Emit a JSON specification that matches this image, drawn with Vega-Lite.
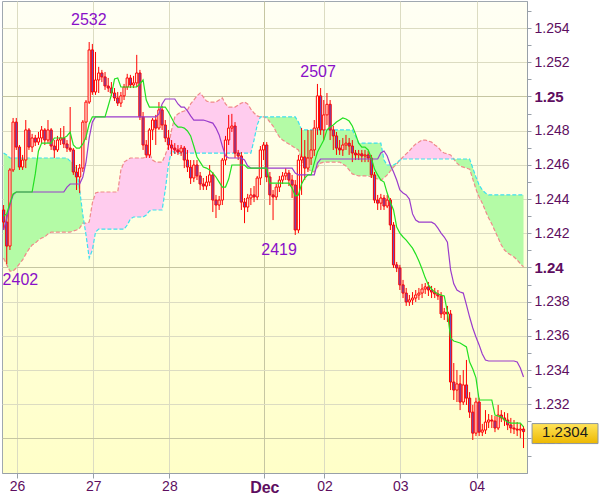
{
"$schema": "https://vega.github.io/schema/vega-lite/v6.json",
"width": 525, "height": 472,
"padding": {"left": 1, "top": 1, "right": 2, "bottom": 0},
"background": "#FFFFFF",
"config": {
  "font": "Liberation Sans",
  "view": {"fill": {"gradient": "linear", "x1": 0, "y1": 0, "x2": 0, "y2": 1, "stops": [{"offset": 0, "color": "#FFFFF4"}, {"offset": 1, "color": "#FFFFC8"}]}, "stroke": "#A0A8B0", "strokeWidth": 1},
  "axis": {"labelFont": "Liberation Sans", "domainColor": "#98A0A8", "tickColor": "#98A0A8", "labelColor": "#5E0E60", "title": null, "labelOverlap": false}
},
"datasets": {
"bars": [
{"i":0,"o":1.24336,"h":1.24365,"l":1.24219,"c":1.24265,"t":1.24301,"k":1.24219},
{"i":1,"o":1.24265,"h":1.24307,"l":1.24020,"c":1.24125,"t":1.24313,"k":1.24289},
{"i":2,"o":1.24125,"h":1.24581,"l":1.24102,"c":1.24570,"t":1.24376,"k":1.24365},
{"i":3,"o":1.24570,"h":1.24874,"l":1.24558,"c":1.24850,"t":1.24430,"k":1.24424},
{"i":4,"o":1.24850,"h":1.24874,"l":1.24687,"c":1.24704,"t":1.24441,"k":1.24441},
{"i":5,"o":1.24704,"h":1.24716,"l":1.24570,"c":1.24587,"t":1.24441,"k":1.24441},
{"i":6,"o":1.24587,"h":1.24658,"l":1.24570,"c":1.24628,"t":1.24441,"k":1.24441},
{"i":7,"o":1.24628,"h":1.24862,"l":1.24581,"c":1.24804,"t":1.24441,"k":1.24441},
{"i":8,"o":1.24804,"h":1.24815,"l":1.24687,"c":1.24704,"t":1.24441,"k":1.24441},
{"i":9,"o":1.24704,"h":1.24781,"l":1.24675,"c":1.24757,"t":1.24441,"k":1.24441},
{"i":10,"o":1.24757,"h":1.24775,"l":1.24710,"c":1.24733,"t":1.24547,"k":1.24441},
{"i":11,"o":1.24733,"h":1.24792,"l":1.24716,"c":1.24757,"t":1.24681,"k":1.24441},
{"i":12,"o":1.24757,"h":1.24827,"l":1.24722,"c":1.24804,"t":1.24727,"k":1.24441},
{"i":13,"o":1.24804,"h":1.24815,"l":1.24716,"c":1.24745,"t":1.24727,"k":1.24441},
{"i":14,"o":1.24745,"h":1.24862,"l":1.24727,"c":1.24804,"t":1.24727,"k":1.24441},
{"i":15,"o":1.24804,"h":1.24815,"l":1.24687,"c":1.24710,"t":1.24727,"k":1.24441},
{"i":16,"o":1.24710,"h":1.24745,"l":1.24640,"c":1.24687,"t":1.24757,"k":1.24441},
{"i":17,"o":1.24687,"h":1.24769,"l":1.24675,"c":1.24745,"t":1.24757,"k":1.24441},
{"i":18,"o":1.24745,"h":1.24815,"l":1.24716,"c":1.24757,"t":1.24757,"k":1.24441},
{"i":19,"o":1.24757,"h":1.24827,"l":1.24698,"c":1.24722,"t":1.24757,"k":1.24441},
{"i":20,"o":1.24722,"h":1.24745,"l":1.24675,"c":1.24698,"t":1.24769,"k":1.24470},
{"i":21,"o":1.24698,"h":1.24938,"l":1.24675,"c":1.24687,"t":1.24792,"k":1.24488},
{"i":22,"o":1.24687,"h":1.24698,"l":1.24541,"c":1.24558,"t":1.24716,"k":1.24488},
{"i":23,"o":1.24558,"h":1.24599,"l":1.24453,"c":1.24529,"t":1.24698,"k":1.24488},
{"i":24,"o":1.24529,"h":1.24605,"l":1.24435,"c":1.24581,"t":1.24698,"k":1.24488},
{"i":25,"o":1.24581,"h":1.24862,"l":1.24558,"c":1.24850,"t":1.24722,"k":1.24529},
{"i":26,"o":1.24850,"h":1.24979,"l":1.24745,"c":1.24967,"t":1.24763,"k":1.24616},
{"i":27,"o":1.24967,"h":1.25318,"l":1.24956,"c":1.25272,"t":1.24839,"k":1.24757},
{"i":28,"o":1.25272,"h":1.25307,"l":1.25009,"c":1.25026,"t":1.24880,"k":1.24850},
{"i":29,"o":1.25026,"h":1.25260,"l":1.25009,"c":1.25096,"t":1.24880,"k":1.24880},
{"i":30,"o":1.25096,"h":1.25173,"l":1.25020,"c":1.25137,"t":1.24880,"k":1.24880},
{"i":31,"o":1.25137,"h":1.25155,"l":1.25084,"c":1.25114,"t":1.24880,"k":1.24880},
{"i":32,"o":1.25114,"h":1.25143,"l":1.25038,"c":1.25061,"t":1.24880,"k":1.24880},
{"i":33,"o":1.25061,"h":1.25108,"l":1.25026,"c":1.25049,"t":1.24944,"k":1.24880},
{"i":34,"o":1.25049,"h":1.25084,"l":1.25003,"c":1.25020,"t":1.25009,"k":1.24880},
{"i":35,"o":1.25020,"h":1.25049,"l":1.24973,"c":1.24991,"t":1.25102,"k":1.24880},
{"i":36,"o":1.24991,"h":1.25026,"l":1.24944,"c":1.24961,"t":1.25108,"k":1.24880},
{"i":37,"o":1.24961,"h":1.25026,"l":1.24938,"c":1.25003,"t":1.25055,"k":1.24880},
{"i":38,"o":1.25003,"h":1.25073,"l":1.24979,"c":1.25055,"t":1.25055,"k":1.24880},
{"i":39,"o":1.25055,"h":1.25132,"l":1.25038,"c":1.25108,"t":1.25055,"k":1.24880},
{"i":40,"o":1.25108,"h":1.25126,"l":1.25049,"c":1.25067,"t":1.25055,"k":1.24880},
{"i":41,"o":1.25067,"h":1.25120,"l":1.25049,"c":1.25079,"t":1.25055,"k":1.24880},
{"i":42,"o":1.25079,"h":1.25243,"l":1.25055,"c":1.25137,"t":1.25055,"k":1.24880},
{"i":43,"o":1.25137,"h":1.25155,"l":1.24862,"c":1.24880,"t":1.25073,"k":1.24880},
{"i":44,"o":1.24880,"h":1.24909,"l":1.24687,"c":1.24716,"t":1.25096,"k":1.24880},
{"i":45,"o":1.24716,"h":1.24745,"l":1.24640,"c":1.24658,"t":1.24979,"k":1.24880},
{"i":46,"o":1.24658,"h":1.24815,"l":1.24640,"c":1.24804,"t":1.24938,"k":1.24880},
{"i":47,"o":1.24804,"h":1.24874,"l":1.24745,"c":1.24862,"t":1.24938,"k":1.24880},
{"i":48,"o":1.24862,"h":1.24892,"l":1.24716,"c":1.24815,"t":1.24938,"k":1.24880},
{"i":49,"o":1.24815,"h":1.24967,"l":1.24804,"c":1.24921,"t":1.24938,"k":1.24898},
{"i":50,"o":1.24921,"h":1.24944,"l":1.24804,"c":1.24833,"t":1.24938,"k":1.24956},
{"i":51,"o":1.24833,"h":1.24862,"l":1.24733,"c":1.24757,"t":1.24938,"k":1.24985},
{"i":52,"o":1.24757,"h":1.24804,"l":1.24687,"c":1.24716,"t":1.24909,"k":1.24985},
{"i":53,"o":1.24716,"h":1.24745,"l":1.24652,"c":1.24698,"t":1.24874,"k":1.24985},
{"i":54,"o":1.24698,"h":1.24727,"l":1.24664,"c":1.24687,"t":1.24839,"k":1.24985},
{"i":55,"o":1.24687,"h":1.24716,"l":1.24658,"c":1.24675,"t":1.24821,"k":1.24956},
{"i":56,"o":1.24675,"h":1.24716,"l":1.24652,"c":1.24698,"t":1.24821,"k":1.24938},
{"i":57,"o":1.24698,"h":1.24710,"l":1.24581,"c":1.24628,"t":1.24815,"k":1.24938},
{"i":58,"o":1.24628,"h":1.24687,"l":1.24558,"c":1.24587,"t":1.24798,"k":1.24915},
{"i":59,"o":1.24587,"h":1.24628,"l":1.24488,"c":1.24523,"t":1.24769,"k":1.24886},
{"i":60,"o":1.24523,"h":1.24628,"l":1.24499,"c":1.24599,"t":1.24710,"k":1.24862},
{"i":61,"o":1.24599,"h":1.24628,"l":1.24511,"c":1.24535,"t":1.24646,"k":1.24862},
{"i":62,"o":1.24535,"h":1.24558,"l":1.24453,"c":1.24488,"t":1.24616,"k":1.24862},
{"i":63,"o":1.24488,"h":1.24523,"l":1.24453,"c":1.24476,"t":1.24587,"k":1.24862},
{"i":64,"o":1.24476,"h":1.24535,"l":1.24453,"c":1.24499,"t":1.24581,"k":1.24856},
{"i":65,"o":1.24499,"h":1.24599,"l":1.24476,"c":1.24541,"t":1.24570,"k":1.24850},
{"i":66,"o":1.24541,"h":1.24558,"l":1.24324,"c":1.24394,"t":1.24552,"k":1.24844},
{"i":67,"o":1.24394,"h":1.24424,"l":1.24289,"c":1.24365,"t":1.24529,"k":1.24815},
{"i":68,"o":1.24365,"h":1.24418,"l":1.24336,"c":1.24394,"t":1.24499,"k":1.24775},
{"i":69,"o":1.24394,"h":1.24640,"l":1.24365,"c":1.24628,"t":1.24470,"k":1.24710},
{"i":70,"o":1.24628,"h":1.24769,"l":1.24599,"c":1.24745,"t":1.24470,"k":1.24652},
{"i":71,"o":1.24745,"h":1.24892,"l":1.24716,"c":1.24815,"t":1.24517,"k":1.24640},
{"i":72,"o":1.24815,"h":1.24898,"l":1.24792,"c":1.24827,"t":1.24599,"k":1.24640},
{"i":73,"o":1.24827,"h":1.24850,"l":1.24640,"c":1.24669,"t":1.24599,"k":1.24640},
{"i":74,"o":1.24669,"h":1.24687,"l":1.24628,"c":1.24652,"t":1.24599,"k":1.24640},
{"i":75,"o":1.24652,"h":1.24675,"l":1.24336,"c":1.24382,"t":1.24599,"k":1.24640},
{"i":76,"o":1.24382,"h":1.24406,"l":1.24259,"c":1.24353,"t":1.24599,"k":1.24628},
{"i":77,"o":1.24353,"h":1.24430,"l":1.24324,"c":1.24406,"t":1.24581,"k":1.24593},
{"i":78,"o":1.24406,"h":1.24464,"l":1.24365,"c":1.24424,"t":1.24581,"k":1.24581},
{"i":79,"o":1.24424,"h":1.24476,"l":1.24382,"c":1.24412,"t":1.24581,"k":1.24581},
{"i":80,"o":1.24412,"h":1.24535,"l":1.24394,"c":1.24523,"t":1.24581,"k":1.24581},
{"i":81,"o":1.24523,"h":1.24710,"l":1.24482,"c":1.24687,"t":1.24581,"k":1.24581},
{"i":82,"o":1.24687,"h":1.24733,"l":1.24628,"c":1.24716,"t":1.24581,"k":1.24581},
{"i":83,"o":1.24716,"h":1.24733,"l":1.24499,"c":1.24529,"t":1.24581,"k":1.24581},
{"i":84,"o":1.24529,"h":1.24558,"l":1.24365,"c":1.24424,"t":1.24493,"k":1.24581},
{"i":85,"o":1.24424,"h":1.24453,"l":1.24277,"c":1.24412,"t":1.24493,"k":1.24581},
{"i":86,"o":1.24412,"h":1.24488,"l":1.24394,"c":1.24470,"t":1.24493,"k":1.24581},
{"i":87,"o":1.24470,"h":1.24535,"l":1.24441,"c":1.24511,"t":1.24493,"k":1.24581},
{"i":88,"o":1.24511,"h":1.24558,"l":1.24488,"c":1.24535,"t":1.24493,"k":1.24581},
{"i":89,"o":1.24535,"h":1.24581,"l":1.24511,"c":1.24552,"t":1.24493,"k":1.24581},
{"i":90,"o":1.24552,"h":1.24570,"l":1.24476,"c":1.24511,"t":1.24493,"k":1.24581},
{"i":91,"o":1.24511,"h":1.24541,"l":1.24406,"c":1.24482,"t":1.24464,"k":1.24581},
{"i":92,"o":1.24482,"h":1.24511,"l":1.24190,"c":1.24219,"t":1.24418,"k":1.24552},
{"i":93,"o":1.24219,"h":1.24658,"l":1.24201,"c":1.24628,"t":1.24424,"k":1.24541},
{"i":94,"o":1.24628,"h":1.24815,"l":1.24424,"c":1.24646,"t":1.24488,"k":1.24541},
{"i":95,"o":1.24646,"h":1.24745,"l":1.24511,"c":1.24581,"t":1.24523,"k":1.24541},
{"i":96,"o":1.24581,"h":1.24804,"l":1.24558,"c":1.24640,"t":1.24541,"k":1.24541},
{"i":97,"o":1.24640,"h":1.24804,"l":1.24599,"c":1.24687,"t":1.24541,"k":1.24541},
{"i":98,"o":1.24687,"h":1.24862,"l":1.24652,"c":1.24815,"t":1.24610,"k":1.24541},
{"i":99,"o":1.24815,"h":1.25073,"l":1.24775,"c":1.25003,"t":1.24675,"k":1.24610},
{"i":100,"o":1.25003,"h":1.25049,"l":1.24775,"c":1.24804,"t":1.24710,"k":1.24634},
{"i":101,"o":1.24804,"h":1.24979,"l":1.24745,"c":1.24892,"t":1.24745,"k":1.24634},
{"i":102,"o":1.24892,"h":1.25020,"l":1.24833,"c":1.24954,"t":1.24804,"k":1.24634},
{"i":103,"o":1.24954,"h":1.24979,"l":1.24745,"c":1.24804,"t":1.24821,"k":1.24634},
{"i":104,"o":1.24804,"h":1.24827,"l":1.24687,"c":1.24769,"t":1.24833,"k":1.24634},
{"i":105,"o":1.24769,"h":1.24792,"l":1.24658,"c":1.24698,"t":1.24850,"k":1.24634},
{"i":106,"o":1.24698,"h":1.24745,"l":1.24658,"c":1.24687,"t":1.24862,"k":1.24634},
{"i":107,"o":1.24687,"h":1.24757,"l":1.24652,"c":1.24716,"t":1.24874,"k":1.24634},
{"i":108,"o":1.24716,"h":1.24775,"l":1.24687,"c":1.24727,"t":1.24868,"k":1.24634},
{"i":109,"o":1.24727,"h":1.24757,"l":1.24658,"c":1.24710,"t":1.24856,"k":1.24634},
{"i":110,"o":1.24710,"h":1.24745,"l":1.24616,"c":1.24669,"t":1.24827,"k":1.24634},
{"i":111,"o":1.24669,"h":1.24687,"l":1.24628,"c":1.24658,"t":1.24781,"k":1.24634},
{"i":112,"o":1.24658,"h":1.24687,"l":1.24628,"c":1.24664,"t":1.24727,"k":1.24634},
{"i":113,"o":1.24664,"h":1.24687,"l":1.24616,"c":1.24652,"t":1.24704,"k":1.24634},
{"i":114,"o":1.24652,"h":1.24687,"l":1.24616,"c":1.24658,"t":1.24704,"k":1.24634},
{"i":115,"o":1.24658,"h":1.24681,"l":1.24616,"c":1.24640,"t":1.24687,"k":1.24634},
{"i":116,"o":1.24640,"h":1.24658,"l":1.24523,"c":1.24541,"t":1.24640,"k":1.24634},
{"i":117,"o":1.24541,"h":1.24558,"l":1.24376,"c":1.24394,"t":1.24575,"k":1.24634},
{"i":118,"o":1.24394,"h":1.24424,"l":1.24336,"c":1.24376,"t":1.24541,"k":1.24634},
{"i":119,"o":1.24376,"h":1.24430,"l":1.24336,"c":1.24406,"t":1.24511,"k":1.24669},
{"i":120,"o":1.24406,"h":1.24424,"l":1.24336,"c":1.24359,"t":1.24499,"k":1.24681},
{"i":121,"o":1.24359,"h":1.24424,"l":1.24347,"c":1.24394,"t":1.24435,"k":1.24652},
{"i":122,"o":1.24394,"h":1.24406,"l":1.24219,"c":1.24248,"t":1.24382,"k":1.24599},
{"i":123,"o":1.24248,"h":1.24265,"l":1.23997,"c":1.24015,"t":1.24336,"k":1.24558},
{"i":124,"o":1.24015,"h":1.24032,"l":1.23973,"c":1.23997,"t":1.24236,"k":1.24511},
{"i":125,"o":1.23997,"h":1.24015,"l":1.23868,"c":1.23898,"t":1.24201,"k":1.24453},
{"i":126,"o":1.23898,"h":1.23927,"l":1.23821,"c":1.23850,"t":1.24178,"k":1.24435},
{"i":127,"o":1.23850,"h":1.23880,"l":1.23775,"c":1.23798,"t":1.24160,"k":1.24424},
{"i":128,"o":1.23798,"h":1.23839,"l":1.23775,"c":1.23810,"t":1.24137,"k":1.24400},
{"i":129,"o":1.23810,"h":1.23856,"l":1.23781,"c":1.23821,"t":1.24113,"k":1.24313},
{"i":130,"o":1.23821,"h":1.23868,"l":1.23798,"c":1.23839,"t":1.24078,"k":1.24277},
{"i":131,"o":1.23839,"h":1.23880,"l":1.23810,"c":1.23850,"t":1.24038,"k":1.24265},
{"i":132,"o":1.23850,"h":1.23904,"l":1.23821,"c":1.23874,"t":1.23991,"k":1.24265},
{"i":133,"o":1.23874,"h":1.23909,"l":1.23845,"c":1.23886,"t":1.23939,"k":1.24265},
{"i":134,"o":1.23886,"h":1.23915,"l":1.23833,"c":1.23868,"t":1.23898,"k":1.24265},
{"i":135,"o":1.23868,"h":1.23892,"l":1.23821,"c":1.23856,"t":1.23874,"k":1.24265},
{"i":136,"o":1.23856,"h":1.23880,"l":1.23821,"c":1.23845,"t":1.23856,"k":1.24254},
{"i":137,"o":1.23845,"h":1.23868,"l":1.23810,"c":1.23833,"t":1.23845,"k":1.24230},
{"i":138,"o":1.23833,"h":1.23856,"l":1.23704,"c":1.23728,"t":1.23839,"k":1.24201},
{"i":139,"o":1.23728,"h":1.23763,"l":1.23693,"c":1.23739,"t":1.23833,"k":1.24178},
{"i":140,"o":1.23739,"h":1.23775,"l":1.23681,"c":1.23728,"t":1.23739,"k":1.24148},
{"i":141,"o":1.23728,"h":1.23751,"l":1.23283,"c":1.23330,"t":1.23587,"k":1.23985},
{"i":142,"o":1.23330,"h":1.23441,"l":1.23225,"c":1.23283,"t":1.23570,"k":1.23904},
{"i":143,"o":1.23283,"h":1.23400,"l":1.23213,"c":1.23319,"t":1.23564,"k":1.23868},
{"i":144,"o":1.23319,"h":1.23371,"l":1.23166,"c":1.23213,"t":1.23558,"k":1.23856},
{"i":145,"o":1.23213,"h":1.23400,"l":1.23196,"c":1.23313,"t":1.23547,"k":1.23850},
{"i":146,"o":1.23313,"h":1.23459,"l":1.23196,"c":1.23236,"t":1.23535,"k":1.23781},
{"i":147,"o":1.23236,"h":1.23271,"l":1.23120,"c":1.23154,"t":1.23447,"k":1.23710},
{"i":148,"o":1.23154,"h":1.23196,"l":1.22991,"c":1.23031,"t":1.23406,"k":1.23646},
{"i":149,"o":1.23031,"h":1.23238,"l":1.23014,"c":1.23213,"t":1.23354,"k":1.23593},
{"i":150,"o":1.23213,"h":1.23238,"l":1.23014,"c":1.23037,"t":1.23225,"k":1.23547},
{"i":151,"o":1.23037,"h":1.23085,"l":1.23014,"c":1.23049,"t":1.23225,"k":1.23494},
{"i":152,"o":1.23049,"h":1.23166,"l":1.23026,"c":1.23096,"t":1.23225,"k":1.23459},
{"i":153,"o":1.23096,"h":1.23143,"l":1.23061,"c":1.23108,"t":1.23225,"k":1.23453},
{"i":154,"o":1.23108,"h":1.23137,"l":1.23061,"c":1.23102,"t":1.23225,"k":1.23453},
{"i":155,"o":1.23102,"h":1.23131,"l":1.23037,"c":1.23061,"t":1.23137,"k":1.23453},
{"i":156,"o":1.23061,"h":1.23196,"l":1.23049,"c":1.23137,"t":1.23131,"k":1.23453},
{"i":157,"o":1.23137,"h":1.23166,"l":1.23096,"c":1.23120,"t":1.23125,"k":1.23453},
{"i":158,"o":1.23120,"h":1.23154,"l":1.23073,"c":1.23108,"t":1.23108,"k":1.23453},
{"i":159,"o":1.23108,"h":1.23148,"l":1.23049,"c":1.23079,"t":1.23096,"k":1.23453},
{"i":160,"o":1.23079,"h":1.23120,"l":1.23031,"c":1.23061,"t":1.23090,"k":1.23453},
{"i":161,"o":1.23061,"h":1.23108,"l":1.23026,"c":1.23055,"t":1.23090,"k":1.23453},
{"i":162,"o":1.23055,"h":1.23096,"l":1.23014,"c":1.23049,"t":1.23090,"k":1.23447},
{"i":163,"o":1.23049,"h":1.23085,"l":1.23002,"c":1.23055,"t":1.23090,"k":1.23412},
{"i":164,"o":1.23055,"h":1.23073,"l":1.22944,"c":1.23040,"t":1.23067,"k":1.23359}
],
"cloud": [
{"i":0,"a":1.24055,"b":1.24669,"s":1},{"i":1,"a":1.24015,"b":1.24658,"s":1},{"i":2,"a":1.23979,"b":1.24640,"s":1},{"i":3,"a":1.23979,"b":1.24640,"s":1},{"i":4,"a":1.23997,"b":1.24640,"s":1},{"i":5,"a":1.24021,"b":1.24640,"s":1},{"i":6,"a":1.24044,"b":1.24640,"s":1},{"i":7,"a":1.24078,"b":1.24640,"s":1},{"i":8,"a":1.24107,"b":1.24640,"s":1},{"i":9,"a":1.24131,"b":1.24640,"s":1},{"i":10,"a":1.24142,"b":1.24640,"s":1},{"i":11,"a":1.24160,"b":1.24640,"s":1},{"i":12,"a":1.24172,"b":1.24640,"s":1},{"i":13,"a":1.24178,"b":1.24640,"s":1},{"i":14,"a":1.24196,"b":1.24640,"s":1},{"i":15,"a":1.24207,"b":1.24640,"s":1},{"i":16,"a":1.24207,"b":1.24640,"s":1},{"i":17,"a":1.24207,"b":1.24640,"s":1},{"i":18,"a":1.24207,"b":1.24640,"s":1},{"i":19,"a":1.24207,"b":1.24640,"s":1},{"i":20,"a":1.24207,"b":1.24640,"s":1},{"i":21,"a":1.24207,"b":1.24622,"s":1},{"i":22,"a":1.24213,"b":1.24610,"s":1},{"i":23,"a":1.24219,"b":1.24581,"s":1},{"i":24,"a":1.24230,"b":1.24453,"s":1},{"i":25,"a":1.24259,"b":1.24307,"s":1},{"i":25.41,"a":1.24259,"b":1.24259,"s":1},
{"i":25.41,"a":1.24259,"b":1.24259,"s":2},{"i":26,"a":1.24259,"b":1.24190,"s":2},{"i":27,"a":1.24265,"b":1.24055,"s":2},{"i":28,"a":1.24376,"b":1.24102,"s":2},{"i":29,"a":1.24435,"b":1.24207,"s":2},{"i":30,"a":1.24441,"b":1.24224,"s":2},{"i":31,"a":1.24441,"b":1.24224,"s":2},{"i":32,"a":1.24441,"b":1.24224,"s":2},{"i":33,"a":1.24441,"b":1.24224,"s":2},{"i":34,"a":1.24441,"b":1.24224,"s":2},{"i":35,"a":1.24441,"b":1.24224,"s":2},{"i":36,"a":1.24441,"b":1.24224,"s":2},{"i":37,"a":1.24570,"b":1.24224,"s":2},{"i":38,"a":1.24616,"b":1.24224,"s":2},{"i":39,"a":1.24628,"b":1.24248,"s":2},{"i":40,"a":1.24640,"b":1.24283,"s":2},{"i":41,"a":1.24640,"b":1.24295,"s":2},{"i":42,"a":1.24640,"b":1.24295,"s":2},{"i":43,"a":1.24640,"b":1.24295,"s":2},{"i":44,"a":1.24640,"b":1.24295,"s":2},{"i":45,"a":1.24646,"b":1.24307,"s":2},{"i":46,"a":1.24669,"b":1.24330,"s":2},{"i":47,"a":1.24628,"b":1.24336,"s":2},{"i":48,"a":1.24616,"b":1.24336,"s":2},{"i":49,"a":1.24616,"b":1.24336,"s":2},{"i":50,"a":1.24616,"b":1.24336,"s":2},{"i":51,"a":1.24658,"b":1.24453,"s":2},{"i":52,"a":1.24710,"b":1.24599,"s":2},{"i":53,"a":1.24804,"b":1.24687,"s":2},{"i":54,"a":1.24880,"b":1.24669,"s":2},{"i":55,"a":1.24898,"b":1.24669,"s":2},{"i":56,"a":1.24909,"b":1.24669,"s":2},{"i":57,"a":1.24915,"b":1.24669,"s":2},{"i":58,"a":1.24921,"b":1.24669,"s":2},{"i":59,"a":1.24956,"b":1.24669,"s":2},{"i":60,"a":1.24979,"b":1.24669,"s":2},{"i":61,"a":1.25003,"b":1.24669,"s":2},{"i":62,"a":1.25020,"b":1.24669,"s":2},{"i":63,"a":1.24997,"b":1.24669,"s":2},{"i":64,"a":1.24973,"b":1.24669,"s":2},{"i":65,"a":1.24967,"b":1.24669,"s":2},{"i":66,"a":1.24967,"b":1.24669,"s":2},{"i":67,"a":1.24967,"b":1.24669,"s":2},{"i":68,"a":1.24979,"b":1.24669,"s":2},{"i":69,"a":1.24991,"b":1.24669,"s":2},{"i":70,"a":1.24956,"b":1.24669,"s":2},{"i":71,"a":1.24938,"b":1.24669,"s":2},{"i":72,"a":1.24938,"b":1.24669,"s":2},{"i":73,"a":1.24938,"b":1.24669,"s":2},{"i":74,"a":1.24950,"b":1.24669,"s":2},{"i":75,"a":1.24961,"b":1.24669,"s":2},{"i":76,"a":1.24967,"b":1.24669,"s":2},{"i":77,"a":1.24956,"b":1.24669,"s":2},{"i":78,"a":1.24926,"b":1.24669,"s":2},{"i":79,"a":1.24903,"b":1.24745,"s":2},{"i":80,"a":1.24886,"b":1.24833,"s":2},{"i":81,"a":1.24880,"b":1.24880,"s":2},
{"i":81,"a":1.24880,"b":1.24880,"s":3},{"i":82,"a":1.24880,"b":1.24880,"s":3},{"i":83,"a":1.24874,"b":1.24880,"s":3},{"i":84,"a":1.24850,"b":1.24880,"s":3},{"i":85,"a":1.24827,"b":1.24880,"s":3},{"i":86,"a":1.24792,"b":1.24880,"s":3},{"i":87,"a":1.24763,"b":1.24880,"s":3},{"i":88,"a":1.24745,"b":1.24880,"s":3},{"i":89,"a":1.24733,"b":1.24880,"s":3},{"i":90,"a":1.24722,"b":1.24880,"s":3},{"i":91,"a":1.24710,"b":1.24880,"s":3},{"i":92,"a":1.24698,"b":1.24880,"s":3},{"i":93,"a":1.24687,"b":1.24850,"s":3},{"i":94,"a":1.24628,"b":1.24804,"s":3},{"i":95,"a":1.24581,"b":1.24804,"s":3},{"i":96,"a":1.24575,"b":1.24804,"s":3},{"i":97,"a":1.24564,"b":1.24804,"s":3},{"i":98,"a":1.24558,"b":1.24804,"s":3},{"i":99,"a":1.24587,"b":1.24804,"s":3},{"i":100,"a":1.24610,"b":1.24804,"s":3},{"i":101,"a":1.24616,"b":1.24804,"s":3},{"i":102,"a":1.24616,"b":1.24804,"s":3},{"i":103,"a":1.24616,"b":1.24804,"s":3},{"i":104,"a":1.24616,"b":1.24804,"s":3},{"i":105,"a":1.24616,"b":1.24804,"s":3},{"i":106,"a":1.24616,"b":1.24804,"s":3},{"i":107,"a":1.24605,"b":1.24804,"s":3},{"i":108,"a":1.24593,"b":1.24804,"s":3},{"i":109,"a":1.24570,"b":1.24804,"s":3},{"i":110,"a":1.24547,"b":1.24804,"s":3},{"i":111,"a":1.24541,"b":1.24769,"s":3},{"i":112,"a":1.24535,"b":1.24727,"s":3},{"i":113,"a":1.24535,"b":1.24727,"s":3},{"i":114,"a":1.24535,"b":1.24727,"s":3},{"i":115,"a":1.24535,"b":1.24727,"s":3},{"i":116,"a":1.24529,"b":1.24727,"s":3},{"i":117,"a":1.24523,"b":1.24727,"s":3},{"i":118,"a":1.24517,"b":1.24727,"s":3},{"i":119,"a":1.24511,"b":1.24727,"s":3},{"i":120,"a":1.24523,"b":1.24628,"s":3},{"i":121,"a":1.24541,"b":1.24599,"s":3},{"i":122,"a":1.24564,"b":1.24599,"s":3},{"i":123,"a":1.24587,"b":1.24599,"s":3},{"i":124,"a":1.24605,"b":1.24610,"s":3},{"i":125,"a":1.24628,"b":1.24628,"s":3},
{"i":125,"a":1.24628,"b":1.24628,"s":4},{"i":126,"a":1.24646,"b":1.24634,"s":4},{"i":127,"a":1.24664,"b":1.24634,"s":4},{"i":128,"a":1.24681,"b":1.24634,"s":4},{"i":129,"a":1.24704,"b":1.24634,"s":4},{"i":130,"a":1.24722,"b":1.24634,"s":4},{"i":131,"a":1.24733,"b":1.24634,"s":4},{"i":132,"a":1.24745,"b":1.24634,"s":4},{"i":133,"a":1.24745,"b":1.24634,"s":4},{"i":134,"a":1.24739,"b":1.24634,"s":4},{"i":135,"a":1.24733,"b":1.24634,"s":4},{"i":136,"a":1.24716,"b":1.24634,"s":4},{"i":137,"a":1.24704,"b":1.24634,"s":4},{"i":138,"a":1.24681,"b":1.24634,"s":4},{"i":139,"a":1.24669,"b":1.24634,"s":4},{"i":140,"a":1.24664,"b":1.24634,"s":4},{"i":141,"a":1.24658,"b":1.24634,"s":4},{"i":142,"a":1.24634,"b":1.24634,"s":4},
{"i":142,"a":1.24634,"b":1.24634,"s":5},{"i":143,"a":1.24610,"b":1.24634,"s":5},{"i":144,"a":1.24593,"b":1.24634,"s":5},{"i":145,"a":1.24587,"b":1.24634,"s":5},{"i":146,"a":1.24581,"b":1.24634,"s":5},{"i":147,"a":1.24575,"b":1.24634,"s":5},{"i":148,"a":1.24517,"b":1.24581,"s":5},{"i":149,"a":1.24458,"b":1.24529,"s":5},{"i":150,"a":1.24412,"b":1.24482,"s":5},{"i":151,"a":1.24376,"b":1.24453,"s":5},{"i":152,"a":1.24330,"b":1.24435,"s":5},{"i":153,"a":1.24289,"b":1.24424,"s":5},{"i":154,"a":1.24254,"b":1.24424,"s":5},{"i":155,"a":1.24213,"b":1.24424,"s":5},{"i":156,"a":1.24172,"b":1.24424,"s":5},{"i":157,"a":1.24131,"b":1.24424,"s":5},{"i":158,"a":1.24102,"b":1.24424,"s":5},{"i":159,"a":1.24084,"b":1.24424,"s":5},{"i":160,"a":1.24073,"b":1.24424,"s":5},{"i":161,"a":1.24061,"b":1.24424,"s":5},{"i":162,"a":1.24044,"b":1.24424,"s":5},{"i":163,"a":1.24021,"b":1.24424,"s":5},{"i":164,"a":1.24003,"b":1.24424,"s":5}
],
"ann": [
{"i":26.9,"p":1.25447,"t":"2532"},
{"i":5.3,"p":1.23927,"t":"2402"},
{"i":86.9,"p":1.24102,"t":"2419"},
{"i":99.2,"p":1.25143,"t":"2507"}
],
"tag": [{"i":177.1,"p":1.2304,"t":"1.2304","x1":166.7,"x2":187.5,"y1":1.23087,"y2":1.22970}]
},
"encoding": {
  "x": {"field": "i", "type": "quantitative", "title": null,
    "scale": {"domain": [-0.5, 165.1], "nice": false, "zero": false, "padding": 0},
    "axis": {"values": [4.23, 28.3, 52.3, 82.25, 101.2, 125.15, 149.25],
      "labelExpr": "datum.value<10?'26':datum.value<40?'27':datum.value<60?'28':datum.value<90?'Dec':datum.value<110?'02':datum.value<130?'03':'04'",
      "grid": true,
      "gridColor": {"condition": {"test": "datum.value>80 && datum.value<90", "value": "#C6C6A2"}, "value": "#DCDCC2"},
      "labelFontWeight": {"condition": {"test": "datum.value>80 && datum.value<90", "value": "bold"}, "value": "normal"},
      "labelFontSize": {"condition": {"test": "datum.value>80 && datum.value<90", "value": 16}, "value": 14},
      "tickSize": 5, "labelPadding": 1, "labelFlush": false, "labelBound": false, "labelOverlap": false, "title": null}},
  "y": {"field": "o", "type": "quantitative", "title": null,
    "scale": {"domain": [1.22798, 1.25558], "nice": false, "zero": false, "padding": 0},
    "axis": {"orient": "right", "title": null,
      "values": [1.229,1.23,1.231,1.232,1.233,1.234,1.235,1.236,1.237,1.238,1.239,1.24,1.241,1.242,1.243,1.244,1.245,1.246,1.247,1.248,1.249,1.25,1.251,1.252,1.253,1.254,1.255],
      "labelExpr": "abs(datum.value*500 - round(datum.value*500)) < 0.01 ? format(datum.value, '~g') : ''",
      "grid": true,
      "gridColor": {"condition": {"test": "abs(datum.value*100 - round(datum.value*100)) < 0.01", "value": "#C6C6A2"}, "value": "#DCDCC2"},
      "gridOpacity": {"condition": {"test": "abs(datum.value*500 - round(datum.value*500)) < 0.01", "value": 1}, "value": 0},
      "labelFontWeight": {"condition": {"test": "abs(datum.value*100 - round(datum.value*100)) < 0.01", "value": "bold"}, "value": "normal"},
      "labelFontSize": {"condition": {"test": "abs(datum.value*100 - round(datum.value*100)) < 0.01", "value": 15}, "value": 14},
      "tickSize": 4, "labelPadding": 3, "labelOverlap": false}}
},
"layer": [
  {"data": {"name": "cloud"},
   "mark": {"type": "area", "opacity": 1},
   "encoding": {
     "y": {"field": "a", "type": "quantitative", "stack": null},
     "y2": {"field": "b"},
     "detail": {"field": "s", "type": "nominal"},
     "color": {"field": "s", "type": "nominal", "legend": null,
       "scale": {"domain": [1, 2, 3, 4, 5], "range": ["#B4FBA6", "#FFCCEE", "#B4FBA6", "#FFCCEE", "#B4FBA6"]}}
   }},
  {"data": {"name": "cloud"},
   "mark": {"type": "line", "color": "#F08A8A", "strokeWidth": 1.2, "strokeDash": [4, 2]},
   "encoding": {"y": {"field": "a", "type": "quantitative"}}},
  {"data": {"name": "cloud"},
   "mark": {"type": "line", "color": "#3EE0EE", "strokeWidth": 1.2, "strokeDash": [4, 2]},
   "encoding": {"y": {"field": "b", "type": "quantitative"}}},
  {"data": {"name": "bars"},
   "mark": {"type": "rule", "color": "#FF0000", "strokeWidth": 1},
   "encoding": {"y": {"field": "h", "type": "quantitative"}, "y2": {"field": "l"}}},
  {"data": {"name": "bars"},
   "mark": {"type": "bar", "size": 2.2, "stroke": "#FF0000", "strokeWidth": 1},
   "encoding": {
     "y": {"field": "o", "type": "quantitative"}, "y2": {"field": "c"},
     "fill": {"condition": {"test": "datum.c < datum.o", "value": "#6E4CB8"}, "value": "#FFFFEC"}}},
  {"data": {"name": "bars"},
   "mark": {"type": "line", "color": "#9A3CCC", "strokeWidth": 1.2},
   "encoding": {"y": {"field": "k", "type": "quantitative"}}},
  {"data": {"name": "bars"},
   "mark": {"type": "line", "color": "#22E022", "strokeWidth": 1.2},
   "encoding": {"y": {"field": "t", "type": "quantitative"}}},
  {"data": {"name": "ann"},
   "mark": {"type": "text", "fontSize": 16, "color": "#8A10C8", "font": "Liberation Sans"},
   "encoding": {"y": {"field": "p", "type": "quantitative"}, "text": {"field": "t"}}},
  {"data": {"name": "tag"},
   "mark": {"type": "rect", "stroke": "#8C96A0", "strokeWidth": 1,
     "fill": {"gradient": "linear", "x1": 0, "y1": 0, "x2": 0, "y2": 1, "stops": [{"offset": 0, "color": "#FFE45A"}, {"offset": 1, "color": "#EDB800"}]}},
   "encoding": {
     "x": {"field": "x1", "type": "quantitative"}, "x2": {"field": "x2"},
     "y": {"field": "y1", "type": "quantitative"}, "y2": {"field": "y2"}}},
  {"data": {"name": "tag"},
   "mark": {"type": "text", "fontSize": 15, "color": "#1A1A1A", "font": "Liberation Sans"},
   "encoding": {
     "y": {"field": "p", "type": "quantitative"}, "text": {"field": "t"}}}
]
}
